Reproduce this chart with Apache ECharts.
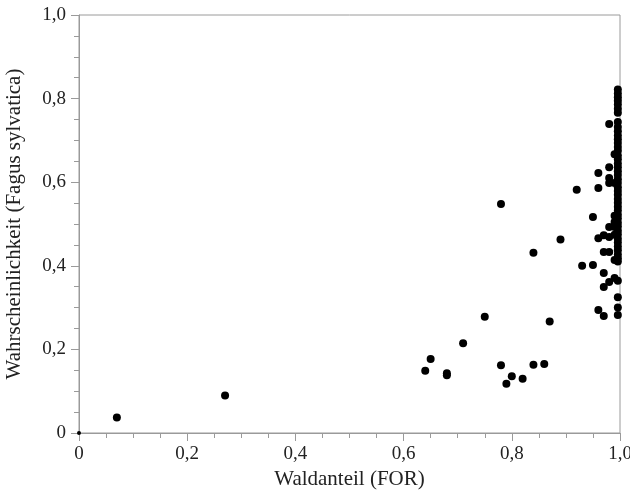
<!DOCTYPE html>
<html>
<head>
<meta charset="utf-8">
<script src="https://cdn.jsdelivr.net/npm/echarts@6/dist/echarts.min.js"></script>
<style>html,body{margin:0;padding:0;background:#fff}#c{width:630px;height:490px}</style>
</head>
<body>
<div id="c"></div>
<script>
// Waldanteil (FOR) values and matching probabilities (Fagus sylvatica)
const forestShare = [
  0, 0.07, 0.27, 0.64, 0.65, 0.68, 0.68, 0.71, 0.75, 0.78, 0.78, 0.79, 0.80, 0.82,
  0.84, 0.84, 0.86, 0.87, 0.89, 0.92, 0.93, 0.95, 0.95, 0.96, 0.96, 0.96, 0.96,
  0.97, 0.97, 0.97, 0.97, 0.97, 0.98, 0.98, 0.98, 0.98, 0.98, 0.98, 0.98, 0.98,
  0.99, 0.99, 0.99, 0.99, 0.99, 0.99, 0.99, 0.99
];
const probability = [
  0.0, 0.037, 0.09, 0.149, 0.177, 0.138, 0.143, 0.215, 0.278, 0.162, 0.548, 0.118, 0.136, 0.130,
  0.163, 0.431, 0.165, 0.267, 0.463, 0.582, 0.400, 0.402, 0.517, 0.622, 0.586, 0.466, 0.294,
  0.473, 0.433, 0.383, 0.349, 0.280, 0.739, 0.636, 0.610, 0.598, 0.493, 0.469, 0.433, 0.361,
  0.667, 0.598, 0.520, 0.493, 0.474, 0.414, 0.371, 0.505
];
// fully forested cells (FOR ~ 1,0)
const fullForestShare = 0.996;
const fullForestProb = [
  0.822, 0.812, 0.803, 0.795, 0.786, 0.776, 0.766, 0.744, 0.732, 0.722, 0.712, 0.703,
  0.694, 0.684, 0.675, 0.664, 0.655, 0.645, 0.636, 0.626, 0.617, 0.607, 0.598, 0.588,
  0.579, 0.570, 0.560, 0.551, 0.541, 0.532, 0.522, 0.513, 0.503, 0.494, 0.484, 0.475,
  0.465, 0.456, 0.446, 0.437, 0.427, 0.418, 0.410, 0.364, 0.325, 0.300, 0.282
];
const tickValues = [0, 0.2, 0.4, 0.6, 0.8, 1.0];

const pts = forestShare.map((x, i) => [x, probability[i]]);
fullForestProb.forEach(y => pts.push([fullForestShare, y]));

const fmt = v => {
  const r = Math.round(v * 10) / 10;
  if (!tickValues.some(t => Math.abs(t - r) < 1e-9)) return '';
  return r === 0 ? '0' : r.toFixed(1).replace('.', ',');
};
const axisCol = '#9a9a9a';
const font = '"Liberation Serif", "DejaVu Serif", serif';
const common = {
  min: 0, max: 1, interval: 0.2,
  axisLine: { show: true, lineStyle: { color: axisCol, width: 1 } },
  axisTick: { show: true, length: 8, lineStyle: { color: axisCol } },
  minorTick: { show: true, splitNumber: 4, length: 5, lineStyle: { color: axisCol } },
  splitLine: { show: false },
  minorSplitLine: { show: false },
  axisLabel: { formatter: fmt, color: '#222', fontFamily: font, fontSize: 19 },
  nameLocation: 'middle',
  nameTextStyle: { color: '#222', fontFamily: font, fontSize: 21 }
};
const chart = echarts.init(document.getElementById('c'), null, { renderer: 'canvas' });
chart.setOption({
  animation: false,
  grid: { left: 79, right: 10, top: 15, bottom: 57, containLabel: false, outerBoundsMode: 'none',
          show: true, borderColor: axisCol, borderWidth: 1, backgroundColor: 'transparent' },
  xAxis: Object.assign({}, common, {
    type: 'value', name: 'Waldanteil (FOR)', nameGap: 36,
    axisLabel: Object.assign({}, common.axisLabel, { margin: 12 })
  }),
  yAxis: Object.assign({}, common, {
    type: 'value', name: 'Wahrscheinlichkeit (Fagus sylvatica)', nameGap: 54,
    axisLabel: Object.assign({}, common.axisLabel, { margin: 13 })
  }),
  series: [{
    type: 'scatter', data: pts, clip: true,
    symbolSize: v => (v[0] === 0 && v[1] === 0 ? 4 : 8),
    itemStyle: { color: '#000', opacity: 1 }
  }]
});
</script>
</body>
</html>
